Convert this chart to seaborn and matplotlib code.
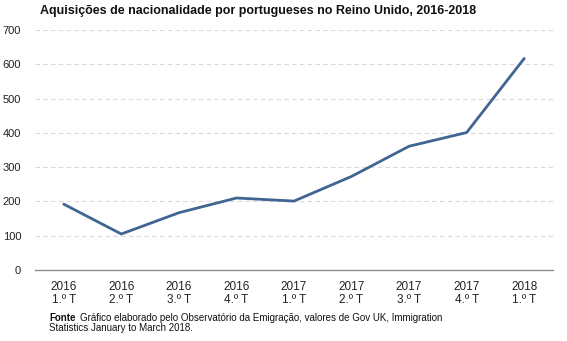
import matplotlib
matplotlib.use("Agg")
import matplotlib.pyplot as plt
import seaborn as sns
import pandas as pd

categories = ["2016\n1.º T", "2016\n2.º T", "2016\n3.º T", "2016\n4.º T",
              "2017\n1.º T", "2017\n2.º T", "2017\n3.º T", "2017\n4.º T",
              "2018\n1.º T"]
values = [192, 105, 167, 210, 201, 273, 361, 401, 617]
yticks = [0, 100, 200, 300, 400, 500, 600, 700]

sns.set_theme(style="white")
plt.rcParams['font.family'] = ['Liberation Sans', 'DejaVu Sans']

df = pd.DataFrame({"x": list(range(len(categories))), "v": values})

fig = plt.figure(figsize=(5.67, 3.41), dpi=100)
ax = fig.add_axes([35/567, 1-270/341, (553-35)/567, (270-30)/341])

sns.lineplot(data=df, x="x", y="v", ax=ax, color="#416592", linewidth=2)

ax.set_xlim(-0.5, 8.5)
ax.set_ylim(0, 700)
ax.set_yticks(yticks)
ax.set_yticklabels([str(t) for t in yticks], fontsize=8, color="#222222")
ax.set_xticks(range(len(categories)))
ax.set_xticklabels(categories, fontsize=8.5, color="#222222", linespacing=1.1)
ax.tick_params(axis="both", length=0, pad=8)
ax.tick_params(axis="y", pad=10)
ax.set_xlabel("")
ax.set_ylabel("")
for y in yticks[1:]:
    ax.axhline(y, color="#d9d9d9", linestyle=(0, (4, 3)), linewidth=0.8, zorder=0)
for s in ["top", "right", "left"]:
    ax.spines[s].set_visible(False)
ax.spines["bottom"].set_color("#8c8c8c")
ax.spines["bottom"].set_linewidth(1)

fig.text(40/567, 1-11/341, "Aquisições de nacionalidade por portugueses no Reino Unido, 2016-2018",
         fontsize=9, fontweight="bold", va="center", ha="left", color="#111111")
fig.text(49/567, 1-318/341, "Fonte", fontsize=7, fontweight="bold", va="center", ha="left", color="#111111")
fig.text(80/567, 1-318/341, "Gráfico elaborado pelo Observatório da Emigração, valores de Gov UK, Immigration",
         fontsize=7, va="center", ha="left", color="#111111")
fig.text(49/567, 1-328/341, "Statistics January to March 2018.",
         fontsize=7, va="center", ha="left", color="#111111")

fig.savefig("out.png", dpi=100, facecolor="white")
